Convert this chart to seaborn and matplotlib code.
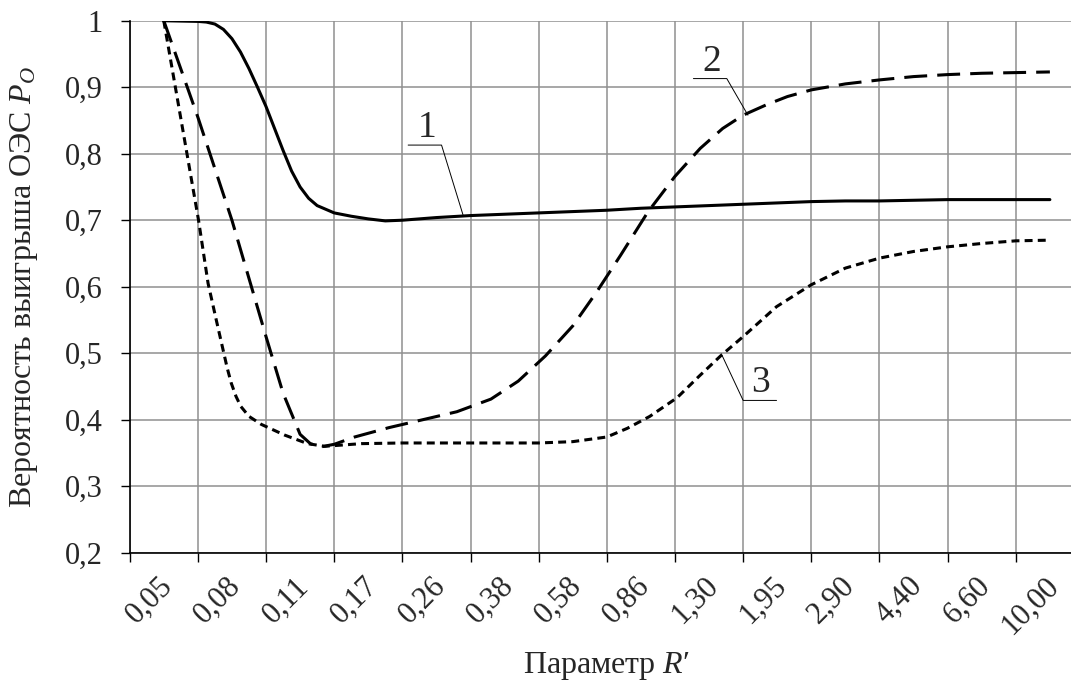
import matplotlib
matplotlib.use("Agg")
import matplotlib.pyplot as plt
import seaborn as sns
import pandas as pd

# ---- data ----
x_tick_labels = ["0,05", "0,08", "0,11", "0,17", "0,26", "0,38", "0,58",
                 "0,86", "1,30", "1,95", "2,90", "4,40", "6,60", "10,00"]
y_ticks = [0.2, 0.3, 0.4, 0.5, 0.6, 0.7, 0.8, 0.9, 1.0]
y_tick_labels = ["0,2", "0,3", "0,4", "0,5", "0,6", "0,7", "0,8", "0,9", "1"]

# positions are in category-index units (0 = "0,05", 13 = "10,00")
x1 = [0, 0.5, 0.625, 0.75, 0.875, 1, 1.125, 1.25, 1.375, 1.5, 1.625, 1.75,
      1.875, 2, 2.125, 2.25, 2.5, 2.75, 3, 3.25, 3.5, 3.75, 4, 4.5, 5, 5.5,
      6, 6.5, 7, 7.5, 8, 8.5, 9, 9.5, 10, 10.5, 11, 11.5, 12, 12.5, 13]
y1 = [1.0, 0.999, 0.998, 0.995, 0.987, 0.973, 0.953, 0.928, 0.900, 0.871,
      0.838, 0.805, 0.774, 0.750, 0.733, 0.722, 0.711, 0.706, 0.702, 0.699,
      0.700, 0.702, 0.704, 0.707, 0.709, 0.711, 0.713, 0.715, 0.718, 0.720,
      0.722, 0.724, 0.726, 0.728, 0.729, 0.729, 0.730, 0.731, 0.731, 0.731,
      0.731]

x2 = [0, 0.5, 1, 1.5, 1.75, 2, 2.15, 2.3, 2.5, 2.8, 3.3, 3.8, 4.3, 4.8, 5.2,
      5.6, 6.0, 6.35, 6.7, 7.1, 7.5, 7.87, 8.2, 8.5, 8.85, 9.15, 9.5, 10,
      10.5, 11, 11.5, 12, 12.5, 13]
y2 = [1.0, 0.855, 0.70, 0.525, 0.44, 0.378, 0.364, 0.359, 0.363, 0.374,
      0.388, 0.400, 0.412, 0.431, 0.458, 0.496, 0.541, 0.592, 0.647, 0.712,
      0.766, 0.808, 0.838, 0.858, 0.874, 0.886, 0.896, 0.905, 0.911, 0.916,
      0.919, 0.921, 0.922, 0.923]

x3 = [0, 0.33, 0.51, 0.65, 0.77, 0.87, 0.93, 0.99, 1.06, 1.13, 1.25, 1.43,
      1.77, 2.11, 2.36, 2.9, 3.5, 4, 4.5, 5, 5.5, 6, 6.5, 6.8, 7.13, 7.53,
      7.86, 8.17, 8.5, 8.99, 9.5, 10, 10.5, 11, 11.5, 12, 12.5, 13]
y3 = [1.0, 0.806, 0.70, 0.605, 0.55, 0.505, 0.478, 0.455, 0.435, 0.42,
      0.405, 0.393, 0.377, 0.364, 0.360, 0.364, 0.365, 0.365, 0.365, 0.365,
      0.365, 0.367, 0.374, 0.387, 0.405, 0.433, 0.466, 0.496, 0.525, 0.570,
      0.603, 0.628, 0.643, 0.653, 0.660, 0.665, 0.669, 0.670]

curve_labels = ["1", "2", "3"]
label_x = [3.86, 8.04, 8.76]
label_y = [0.825, 0.924, 0.442]
leader_x = [[3.585, 4.075, 4.39], [7.77, 8.26, 8.57], [8.18, 8.50, 8.99]]
leader_y = [[0.813, 0.813, 0.708], [0.913, 0.913, 0.858], [0.499, 0.429, 0.429]]

# ---- style ----
sns.set_theme(style="white")
plt.rcParams["font.family"] = ["Liberation Serif", "DejaVu Serif"]
plt.rcParams["mathtext.fontset"] = "custom"
plt.rcParams["mathtext.rm"] = "Liberation Serif"
plt.rcParams["mathtext.it"] = "Liberation Serif:italic"

fig = plt.figure(figsize=(10.71, 6.82), dpi=100)
ax = fig.add_axes([0.1211, 0.1896, 0.891, 0.780])

series = [(x1, y1, "-"), (x2, y2, (0, (7.5, 3.3))), (x3, y3, (0, (2.6, 1.7)))]
for xs, ys, ls in series:
    df = pd.DataFrame({"x": xs, "y": ys})
    sns.lineplot(data=df, x="x", y="y", ax=ax, color="black", lw=2.2,
                 estimator=None, sort=False, zorder=3)
    ax.lines[-1].set_linestyle(ls)
    ax.lines[-1].set_solid_joinstyle("round")

for lx, ly in zip(leader_x, leader_y):
    ax.plot(lx, ly, color="black", lw=0.7, zorder=4)
for t, tx, ty in zip(curve_labels, label_x, label_y):
    ax.text(tx, ty, t, ha="center", va="baseline", fontsize=27, zorder=5)

# axes
n = len(x_tick_labels)
ax.set_xlim(-0.5, n - 0.5)
ax.set_ylim(0.2, 1.0)
ax.set_xticks([k - 0.5 for k in range(n + 1)])
ax.set_xticklabels([])
ax.set_xticks([k + 0.07 for k in range(n)], minor=True)
ax.set_xticklabels(x_tick_labels, minor=True, rotation=45, ha="right",
                   va="center", rotation_mode="anchor", fontsize=22)
ax.set_yticks(y_ticks)
ax.set_yticklabels(y_tick_labels, fontsize=22)

ax.tick_params(axis="both", which="major", direction="out", length=6.5,
               width=1.0, color="black", bottom=True, left=True)
ax.tick_params(axis="y", which="major", pad=13)
ax.tick_params(axis="x", which="minor", length=0, pad=21, bottom=True)

ax.grid(True, which="major", color="#8f8f8f", lw=1.1, zorder=0)
ax.set_axisbelow(True)
for s in ["top", "right"]:
    ax.spines[s].set_visible(False)
for s in ["left", "bottom"]:
    ax.spines[s].set_color("black")
    ax.spines[s].set_linewidth(1.2)

ax.set_xlabel("Параметр $R$′", fontsize=23)
ax.set_ylabel("Вероятность выигрыша ОЭС $P_O$", fontsize=23)
ax.xaxis.set_label_coords(0.5, -0.183)
ax.yaxis.set_label_coords(-0.094, 0.5)

fig.savefig("out.png", dpi=100)
